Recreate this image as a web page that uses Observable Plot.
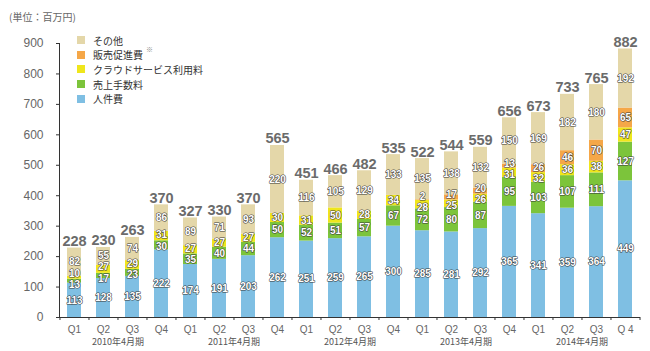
<!DOCTYPE html>
<html><head><meta charset="utf-8">
<script src="https://cdn.jsdelivr.net/npm/d3@7"></script>
<script src="https://cdn.jsdelivr.net/npm/@observablehq/plot@0.6"></script>
<style>
body{margin:0;background:#fff;}
#wrap{position:relative;width:650px;height:351px;font-family:"Noto Sans CJK JP","Noto Sans",sans-serif;}
#unit{position:absolute;left:9px;top:10px;font-size:10px;line-height:14px;color:#666;}
#legend{position:absolute;left:77px;top:33px;font-size:10px;color:#333;}
.item{display:flex;align-items:center;height:14.6px;position:relative;}
.sw{width:8px;height:8px;margin-right:8px;flex:none;}
.note{font-size:7px;color:#888;position:relative;top:-6px;margin-left:3px;}
</style></head><body>
<div id="wrap"><div id="chart"></div><div id="unit">(単位：百万円)</div><div id="legend"></div></div>
<script>
const years = ["2010年4月期","2011年4月期","2012年4月期","2013年4月期","2014年4月期"];
const quarters = ["Q1","Q2","Q3","Q4"];
const lastQuarterLabel = "Q 4";
const seriesNames = ["人件費","売上手数料","クラウドサービス利用料","販売促進費","その他"];
const seriesColors = ["#7fbfe3","#7cc43b","#efe61c","#f5a748","#e4d7a9"];
const personnel = [113,128,135,222,174,191,203,262,251,259,265,300,285,281,292,365,341,359,364,449];
const salesFees = [13,17,23,30,35,40,44,50,52,51,57,67,72,80,87,95,103,107,111,127];
const cloud     = [10,27,29,31,27,27,27,30,31,50,28,34,28,25,26,31,32,36,38,47];
const promo     = [0,0,0,0,0,0,0,0,0,0,0,0,2,17,20,13,26,46,70,65];
const other     = [82,55,74,86,89,71,93,220,116,105,129,133,135,138,132,150,169,182,180,192];
const totals    = [228,230,263,370,327,330,370,565,451,466,482,535,522,544,559,656,673,733,765,882];
const yTicks = [0,100,200,300,400,500,600,700,800,900];

const n = totals.length;
const cats = d3.range(n).map(i => years[Math.floor(i/4)] + " " + quarters[i%4]);
const qLabel = c => { const i = cats.indexOf(c); return i === n-1 ? lastQuarterLabel : quarters[i%4]; };
const series = [personnel, salesFees, cloud, promo, other];
const minGap = 37; // minimum label spacing within a bar, in value units
const segs = [];
for (let i = 0; i < n; i++) {
  let cum = 0;
  const barSegs = [];
  series.forEach((arr, s) => {
    const y1 = cum;
    const y2 = s === series.length - 1 ? totals[i] : cum + arr[i];
    barSegs.push({cat: cats[i], s: seriesNames[s], v: arr[i], y1, y2, pos: (y1 + y2) / 2});
    cum = y2;
  });
  // relax label positions so neighbouring labels do not collide
  const vis = barSegs.filter(d => d.v > 0);
  for (let it = 0; it < 60; it++) {
    for (let k = 1; k < vis.length; k++) {
      const d = vis[k].pos - vis[k-1].pos;
      if (d < minGap) { const sh = (minGap - d) / 2; vis[k].pos += sh; vis[k-1].pos -= sh; }
    }
    if (vis[0].pos < 18) vis[0].pos = 18;
  }
  segs.push(...barSegs);
}
const labels = segs.filter(d => d.v > 0);

const W = 650, H = 351, mL = 59, mR = 10, mT = 43, mB = 34;
const step = (W - mL - mR) / n;
const font = "'Liberation Sans','Noto Sans CJK JP',sans-serif";

const chart = Plot.plot({
  width: W, height: H, marginLeft: mL, marginRight: mR, marginTop: mT, marginBottom: mB,
  style: {fontFamily: font, background: "#fff", overflow: "visible"},
  x: {domain: cats, paddingInner: 0.52, paddingOuter: 0.26, label: null},
  y: {domain: [0, 900], label: null},
  color: {domain: seriesNames, range: seriesColors},
  marks: [
    Plot.barY(labels, {x: "cat", y1: "y1", y2: "y2", fill: "s"}),
    Plot.frame({anchor: "left", stroke: "#333"}),
    Plot.ruleY([0], {stroke: "#333"}),
    Plot.axisY({ticks: yTicks, tickSize: 3, tickPadding: 13, fontSize: 12, fill: "#666", stroke: "#333", label: null}),
    Plot.axisX({tickSize: 3, dx: -step/2, tickFormat: () => "", stroke: "#333", label: null}),
    Plot.axisX([cats[n-1]], {tickSize: 3, dx: step/2, tickFormat: () => "", stroke: "#333", label: null}),
    Plot.axisX({tickSize: 0, tickPadding: 8, tickFormat: qLabel, fontSize: 10, fill: "#666", label: null}),
    Plot.text(years, {x: (d, i) => cats[i*4 + 2], dx: -step/2, frameAnchor: "bottom", dy: 27, fontSize: 9, fill: "#555", fontFamily: "'Noto Sans CJK JP',sans-serif"}),
    Plot.text(labels, {x: "cat", y: "pos", text: d => String(d.v), fill: "#fff", stroke: "#3a3a3a", strokeWidth: 1.1, fontWeight: "bold", fontSize: 10, ariaLabel: "values"}),
    Plot.text(totals, {x: (d, i) => cats[i], y: d => d, text: d => String(d), lineAnchor: "bottom", dy: -2, fontSize: 14.5, fontWeight: "bold", fill: "#6b6b6b", ariaLabel: "totals"})
  ]
});
d3.select(chart).select('g[aria-label="values"]').style("filter", "drop-shadow(1px 1px 0.6px rgba(0,0,0,0.9))");
d3.select(chart).select('g[aria-label="totals"]').style("filter", "drop-shadow(0.5px 0.5px 0.5px rgba(0,0,0,0.25))");
document.getElementById("chart").appendChild(chart);

const legend = document.getElementById("legend");
for (let s = seriesNames.length - 1; s >= 0; s--) {
  const row = document.createElement("div");
  row.className = "item";
  row.innerHTML = `<span class="sw" style="background:${seriesColors[s]}"></span><span>${seriesNames[s]}</span>` + (s === 3 ? `<span class="note">※</span>` : "");
  legend.appendChild(row);
}
</script>
</body></html>
